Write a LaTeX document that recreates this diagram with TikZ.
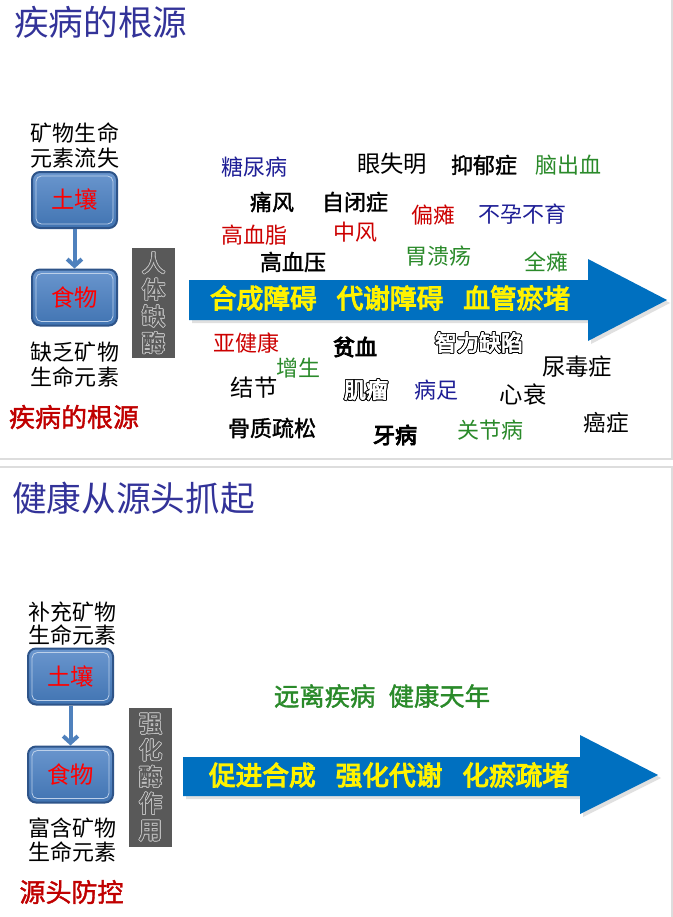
\documentclass[tikz,border=0pt]{standalone}
\usepackage{fontspec}
\setmainfont{Noto Sans CJK SC}
\newfontfamily\boldfont[FakeBold=1.5]{Noto Sans CJK SC}
\newfontfamily\heavyfont[FakeBold=4]{Noto Sans CJK SC}
\usepackage{contour}
\contourlength{0.6pt}
\usetikzlibrary{arrows.meta}
\definecolor{titleblue}{HTML}{333399}
\definecolor{rootred}{HTML}{C00000}
\definecolor{wordred}{HTML}{CC0000}
\definecolor{wordblue}{HTML}{1E1E96}
\definecolor{wordgreen}{HTML}{2A8A2A}
\definecolor{boxtop}{HTML}{6A96CE}
\definecolor{boxbot}{HTML}{4174B2}
\definecolor{boxline}{HTML}{2E5489}
\definecolor{linkblue}{HTML}{4F81BD}
\definecolor{enzgray}{HTML}{595959}
\definecolor{arrowblue}{HTML}{0070C0}
\definecolor{framegray}{HTML}{DDDDDD}
\begin{document}
\begin{tikzpicture}[x=0.75pt,y=-0.75pt,
    title/.style={anchor=west,inner sep=0pt,text=titleblue,font=\fontsize{26}{30}\selectfont},
    side/.style={align=center,inner sep=0pt,font=\fontsize{16.5}{18.75}\selectfont},
    root/.style={inner sep=0pt,text=rootred,font=\boldfont\fontsize{19.5}{22}\selectfont},
    soil/.style={rounded corners=6pt,draw=boxline,line width=1.5pt,top color=boxtop,bottom color=boxbot,
        minimum width=63.75pt,minimum height=42pt,text=red,font=\fontsize{17.5}{20}\selectfont},
    bevel/.style={draw=white!55!boxtop,rounded corners=4pt,line width=0.6pt},
    link/.style={draw=linkblue,line width=3pt,-{Straight Barb[length=5pt,width=11pt]}},
    enzyme/.style={fill=enzgray,inner sep=0pt,align=center,text=enzgray,minimum width=32.5pt,
        font=\boldfont\fontsize{17.5}{20}\selectfont},
    bigarrow/.style={fill=arrowblue},
    arrowtext/.style={inner sep=0pt,text=yellow,font=\heavyfont\fontsize{20}{24}\selectfont},
    word/.style={inner sep=0pt,font=\fontsize{16.5}{18}\selectfont},
    hollow/.style={word,text=white,font=\heavyfont\fontsize{16.5}{18}\selectfont},
    frame/.style={draw=framegray,line width=1pt}
  ]
  \useasboundingbox (0,0) rectangle (673,917);
  \fill[white] (0,0) rectangle (673,917);
  \draw[frame] (-3,-3) rectangle (672,459);
  \draw[frame] (-3,467) rectangle (672,920);

  % top panel
  \node[title] (titleA) at (14,22) {疾病的根源};
  \node[side] (lossA) at (75,145.5) {矿物生命\\元素流失};
  \node[soil] (soilA) at (74.5,200) {土壤};
  \node[soil] (foodA) at (74.5,297.5) {食物};
  \draw[bevel] ([shift={(5,5)}]soilA.north west) rectangle ([shift={(-5,-5)}]soilA.south east);
  \draw[bevel] ([shift={(5,5)}]foodA.north west) rectangle ([shift={(-5,-5)}]foodA.south east);
  \draw[link] (soilA) -- (foodA);
  \node[side] (lackA) at (75,365) {缺乏矿物\\生命元素};
  \node[root] (rootA) at (74,417) {疾病的根源};
  \node[enzyme,minimum height=82.5pt] (enzA) at (153.5,303)
    {\contour{gray!50}{人}\\\contour{gray!50}{体}\\\contour{gray!50}{缺}\\\contour{gray!50}{酶}};
  \fill[black!12] (192,283) -- (591,283) -- (591,262) -- (670,303) -- (591,344) -- (591,323) -- (192,323) -- cycle;
  \fill[bigarrow] (189,280) -- (588,280) -- (588,259) -- (667,300) -- (588,341) -- (588,320) -- (189,320) -- cycle;
  \node[arrowtext] (blockA) at (390,298) {合成障碍\hspace{15pt}代谢障碍\hspace{15pt}血管瘀堵};

  \node[word,text=wordblue] (diabetes) at (254,167) {糖尿病};
  \node[word,font=\fontsize{17.5}{18}\selectfont] (blind) at (392,164) {眼失明};
  \node[word,font=\boldfont\fontsize{16.5}{18}\selectfont] (depress) at (484,165) {抑郁症};
  \node[word,text=wordgreen] (stroke) at (568,165) {脑出血};
  \node[word,font=\boldfont\fontsize{16.5}{18}\selectfont] (gout) at (272,202) {痛风};
  \node[word,font=\boldfont\fontsize{16.5}{18}\selectfont] (autism) at (355,202) {自闭症};
  \node[word,text=wordred] (hemi) at (433,215) {偏瘫};
  \node[word,text=wordblue] (infert) at (522,214) {不孕不育};
  \node[word,text=wordred] (lipid) at (254,235) {高血脂};
  \node[word,text=wordred] (palsy) at (355,232) {中风};
  \node[word,text=wordgreen] (ulcer) at (438,256) {胃溃疡};
  \node[word,text=wordgreen] (para) at (546,262) {全瘫};
  \node[word,font=\boldfont\fontsize{16.5}{18}\selectfont] (hyper) at (293,262) {高血压};

  \node[word,text=wordred] (subhealth) at (246,343) {亚健康};
  \node[word,font=\heavyfont\fontsize{16.5}{18}\selectfont] (anemia) at (355,347) {贫血};
  \node[hollow] (retard) at (479,343) {\contour{black}{智力缺陷}};
  \node[word,text=wordgreen] (growth) at (298,368) {增生};
  \node[word,font=\fontsize{17.5}{18}\selectfont] (uremia) at (577,367) {尿毒症};
  \node[word,font=\fontsize{17.5}{18}\selectfont] (nodule) at (254,388) {结节};
  \node[hollow] (myoma) at (366,390) {\contour{black}{肌瘤}};
  \node[word,text=wordblue] (foot) at (436,390) {病足};
  \node[word,font=\fontsize{17.5}{18}\selectfont] (heart) at (523,395) {心衰};
  \node[word,font=\boldfont\fontsize{16.5}{18}\selectfont] (osteo) at (272,428) {骨质疏松};
  \node[word,font=\heavyfont\fontsize{16.5}{18}\selectfont] (teeth) at (395,435) {牙病};
  \node[word,text=wordgreen] (joint) at (490,430) {关节病};
  \node[word,font=\fontsize{17}{18}\selectfont] (cancer) at (606,423) {癌症};

  % bottom panel
  \node[title] (titleB) at (12,498) {健康从源头抓起};
  \node[side,font=\fontsize{16.5}{17.5}\selectfont] (addB) at (72,623.5) {补充矿物\\生命元素};
  \node[soil] (soilB) at (70.5,676.5) {土壤};
  \node[soil] (foodB) at (70.5,774.5) {食物};
  \draw[bevel] ([shift={(5,5)}]soilB.north west) rectangle ([shift={(-5,-5)}]soilB.south east);
  \draw[bevel] ([shift={(5,5)}]foodB.north west) rectangle ([shift={(-5,-5)}]foodB.south east);
  \draw[link] (soilB) -- (foodB);
  \node[side,font=\fontsize{16.5}{18}\selectfont] (richB) at (72,840) {富含矿物\\生命元素};
  \node[root] (rootB) at (71.5,892) {源头防控};
  \node[enzyme,minimum height=104pt] (enzB) at (150.5,777.5)
    {\contour{gray!50}{强}\\\contour{gray!50}{化}\\\contour{gray!50}{酶}\\\contour{gray!50}{作}\\\contour{gray!50}{用}};
  \node[word,text=wordgreen,font=\boldfont\fontsize{19}{20}\selectfont] (aim) at (382,696) {远离疾病\hspace{10pt}健康天年};
  \fill[black!12] (186,760) -- (583,760) -- (583,738) -- (661,778) -- (583,817) -- (583,799) -- (186,799) -- cycle;
  \fill[bigarrow] (183,757) -- (580,757) -- (580,735) -- (658,775) -- (580,814) -- (580,796) -- (183,796) -- cycle;
  \node[arrowtext] (blockB) at (389,775) {促进合成\hspace{15pt}强化代谢\hspace{15pt}化瘀疏堵};
\end{tikzpicture}
\end{document}
